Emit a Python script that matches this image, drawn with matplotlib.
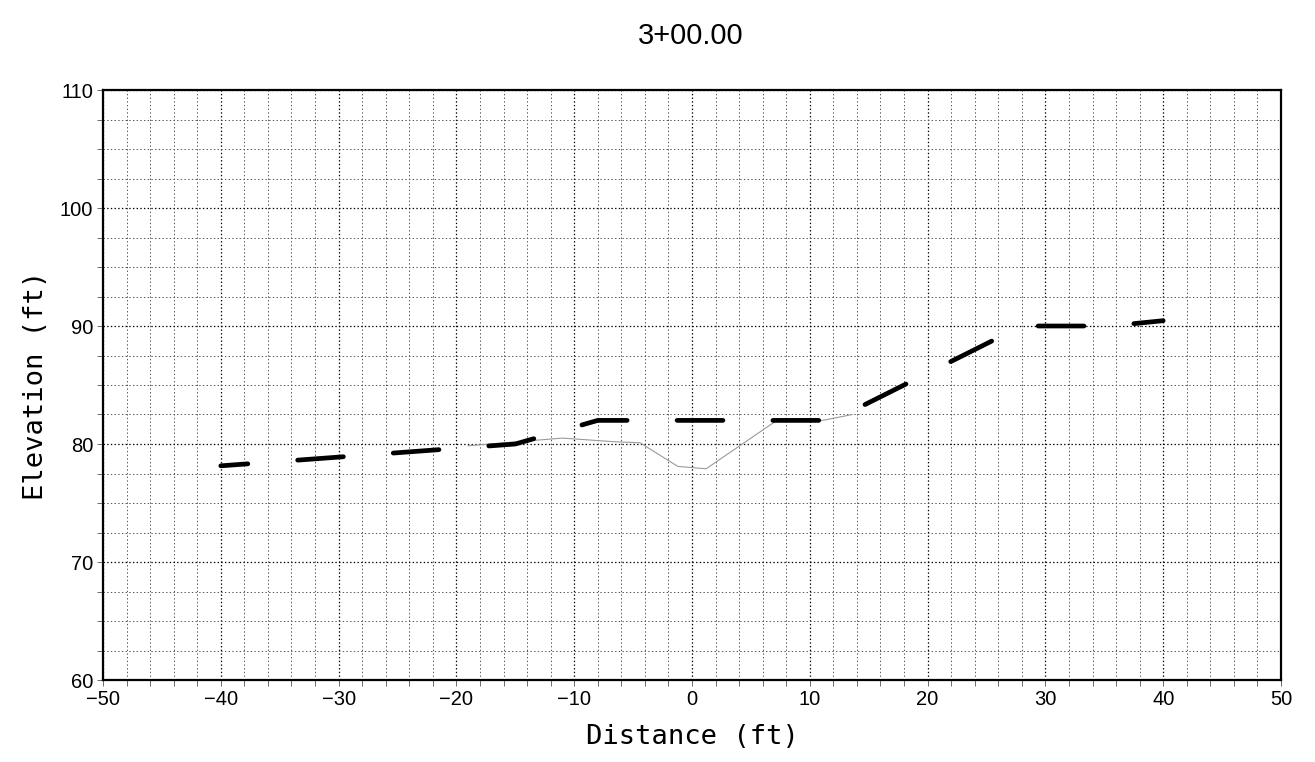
import matplotlib
matplotlib.use('Agg')
import matplotlib.pyplot as plt
from matplotlib.ticker import MultipleLocator

# proposed section (heavy dashed line)
design_x = [-40, -15, -8, 12, 28, 35.5, 40]
design_y = [78.15, 80.0, 82.0, 82.0, 90.0, 90.0, 90.45]

# existing ground (thin gray line)
ground_x = [-19, -11, -6.7, -4.4, -1.2, 1.2, 7.2, 11.1, 13.6]
ground_y = [79.85, 80.5, 80.2, 80.1, 78.1, 77.9, 82.0, 82.0, 82.5]

title = '3+00.00'
x_label = 'Distance (ft)'
y_label = 'Elevation (ft)'

plt.rcParams['lines.scale_dashes'] = False

fig = plt.figure(figsize=(13.15, 7.62), dpi=100)
ax = fig.add_axes([103 / 1315, 1 - 680 / 762, 1178 / 1315, 590 / 762])

ax.set_xlim(-50, 50)
ax.set_ylim(60, 110)
ax.xaxis.set_major_locator(MultipleLocator(10))
ax.xaxis.set_minor_locator(MultipleLocator(2))
ax.yaxis.set_major_locator(MultipleLocator(10))
ax.yaxis.set_minor_locator(MultipleLocator(2.5))

ax.grid(which='major', linestyle=':', color='black', linewidth=0.9)
ax.grid(which='minor', linestyle=':', color='#555555', linewidth=0.7)
ax.set_axisbelow(True)

ax.tick_params(which='both', direction='out', length=4, width=0.6,
               color='#555555', pad=3, labelsize=14.5)
for lab in ax.get_xticklabels() + ax.get_yticklabels():
    lab.set_fontfamily('Liberation Sans')

for s in ax.spines.values():
    s.set_linewidth(1.6)

ax.plot(ground_x, ground_y, color='#9a9a9a', linewidth=0.8)
# plotter style long dash
line, = ax.plot(design_x, design_y, color='black', linewidth=3.4)
line.set_linestyle((13.5, (33, 36)))
line.set_dash_capstyle('round')

fig.text(691 / 1315, 1 - 36 / 762, title, ha='center', va='center',
         fontsize=21, family='Liberation Sans')
ax.set_xlabel(x_label, fontsize=19.5, family='DejaVu Sans Mono')
ax.xaxis.set_label_coords(0.5, (680 - 737) / 590)
ax.xaxis.label.set_va('center')
ax.set_ylabel(y_label, fontsize=19.5, family='DejaVu Sans Mono')
ax.yaxis.set_label_coords((36 - 103) / 1178, 0.5)
ax.yaxis.label.set_va('center')

fig.savefig('out.png', dpi=100)
